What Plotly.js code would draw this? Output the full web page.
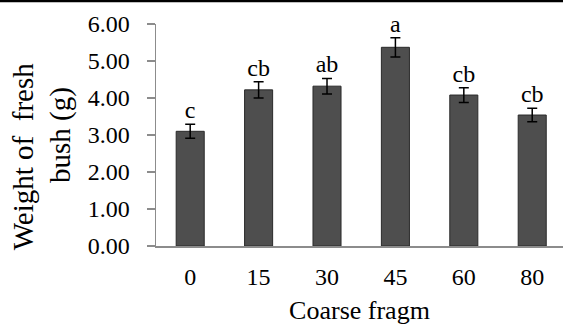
<!DOCTYPE html>
<html>
<head>
<meta charset="utf-8">
<script src="https://cdn.plot.ly/plotly-3.0.1.min.js"></script>
<style>
html,body{margin:0;padding:0;background:#fff;}
#chart{width:563px;height:326px;}
</style>
</head>
<body>
<div id="chart"></div>
<script>
const categories = ['0', '15', '30', '45', '60', '80'];
const weights = [3.10, 4.22, 4.32, 5.37, 4.08, 3.54];
const errors = [0.19, 0.22, 0.21, 0.26, 0.20, 0.18];
const letters = ['c', 'cb', 'ab', 'a', 'cb', 'cb'];
const yTicks = [0, 1, 2, 3, 4, 5, 6];

const serif = 'Liberation Serif, Times New Roman, serif';

const bars = {
  type: 'bar',
  x: categories,
  y: weights,
  width: 0.41,
  marker: {color: '#4e4e4e', line: {color: '#2a2a2a', width: 1}},
  error_y: {type: 'data', array: errors, visible: true, color: '#000', thickness: 1.5, width: 5},
  hoverinfo: 'none'
};

const labels = {
  type: 'scatter',
  mode: 'text',
  x: categories,
  y: weights.map((v, i) => v + errors[i]),
  text: letters,
  textposition: 'top center',
  textfont: {family: serif, size: 24, color: '#000'},
  cliponaxis: false,
  hoverinfo: 'none'
};

const pad = '\u00a0'.repeat(6);

const layout = {
  width: 563,
  height: 326,
  margin: {l: 156, r: 0, t: 24, b: 80},
  paper_bgcolor: '#fff',
  plot_bgcolor: '#fff',
  showlegend: false,
  font: {family: serif, color: '#000'},
  xaxis: {
    type: 'category',
    range: [-0.5, 5.45],
    showline: true,
    linecolor: '#8c8c8c',
    linewidth: 1.5,
    ticks: '',
    showgrid: false,
    zeroline: false,
    tickfont: {family: serif, size: 24, color: '#000'},
    ticklabelstandoff: 9,
    title: {text: 'Coarse fragm', font: {family: serif, size: 26, color: '#000'}, standoff: 11}
  },
  yaxis: {
    range: [0, 6],
    tickvals: yTicks,
    ticktext: yTicks.map(v => v.toFixed(2)),
    showline: true,
    linecolor: '#8c8c8c',
    linewidth: 1.5,
    ticks: 'outside',
    ticklen: 8,
    tickcolor: '#8c8c8c',
    tickwidth: 1.5,
    showgrid: false,
    zeroline: false,
    tickfont: {family: serif, size: 24, color: '#000'},
    ticklabelstandoff: 12,
    title: {text: 'Weight of  fresh' + pad + '<br>bush (g)' + pad, font: {family: serif, size: 29, color: '#000'}, standoff: 8}
  },
  shapes: [{
    type: 'line', xref: 'paper', yref: 'paper',
    x0: -0.5, x1: 1.5, y0: 1 + 23/222, y1: 1 + 23/222,
    line: {color: '#000', width: 2.5}
  }]
};

Plotly.newPlot('chart', [bars, labels], layout, {staticPlot: true, displayModeBar: false});
</script>
</body>
</html>
